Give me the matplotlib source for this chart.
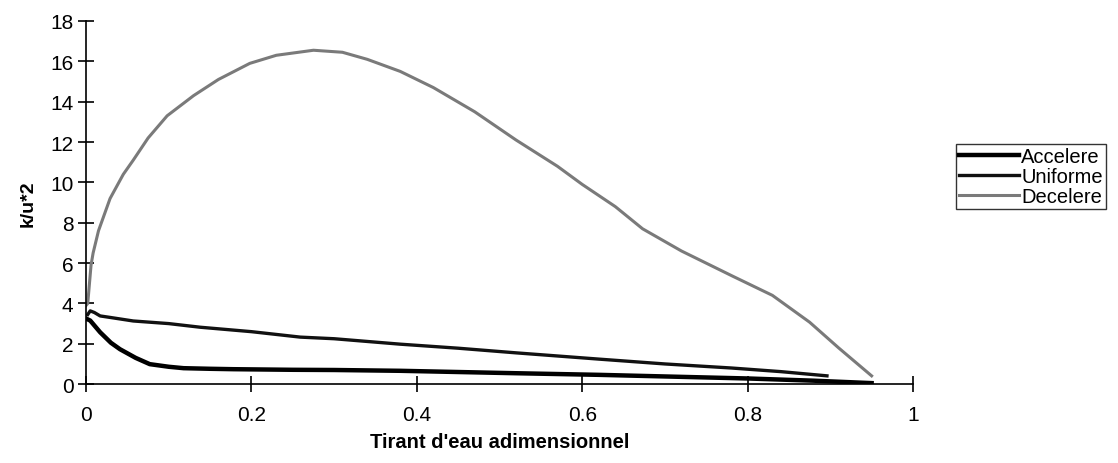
import numpy as np
import matplotlib.pyplot as plt

plt.rcParams['font.family'] = ['Liberation Sans', 'DejaVu Sans']

# Données
x_acc = [0.0, 0.005, 0.017, 0.03, 0.041, 0.06, 0.077, 0.1, 0.118, 0.15, 0.178, 0.25,
         0.3, 0.38, 0.45, 0.52, 0.62, 0.7, 0.8, 0.88, 0.95]
y_acc = [3.25, 3.15, 2.57, 2.05, 1.73, 1.3, 0.99, 0.86, 0.79, 0.76, 0.74, 0.71,
         0.7, 0.66, 0.6, 0.54, 0.46, 0.38, 0.28, 0.17, 0.05]

x_uni = [0.002, 0.005, 0.01, 0.017, 0.03, 0.057, 0.1, 0.138, 0.2, 0.259, 0.3, 0.38,
         0.45, 0.52, 0.62, 0.7, 0.78, 0.84, 0.896]
y_uni = [3.45, 3.63, 3.55, 3.38, 3.3, 3.13, 3.0, 2.82, 2.6, 2.33, 2.25, 1.98,
         1.78, 1.55, 1.24, 1.0, 0.8, 0.62, 0.41]

x_dec = [0.0, 0.002, 0.006, 0.0085, 0.015, 0.029, 0.045, 0.057, 0.075, 0.098, 0.13,
         0.16, 0.198, 0.23, 0.275, 0.31, 0.34, 0.38, 0.42, 0.47, 0.52, 0.57,
         0.6, 0.64, 0.673, 0.72, 0.782, 0.83, 0.875, 0.91, 0.95]
y_dec = [3.9, 4.0, 5.9, 6.5, 7.6, 9.2, 10.4, 11.1, 12.2, 13.3, 14.3, 15.1, 15.9,
         16.3, 16.55, 16.45, 16.1, 15.5, 14.7, 13.5, 12.1, 10.8, 9.9, 8.8, 7.7,
         6.6, 5.35, 4.4, 3.07, 1.8, 0.41]

fig = plt.figure(figsize=(11.18, 4.64), dpi=100)
ax = fig.add_axes([0.077, 0.170, 0.7396, 0.7826])

ax.plot(x_acc, y_acc, color='black', lw=3.2, label='Accelere')
ax.plot(x_uni, y_uni, color='#111111', lw=2.4, label='Uniforme')
ax.plot(x_dec, y_dec, color='#7a7a7a', lw=2.2, label='Decelere')

ax.set_xlim(0, 1)
ax.set_ylim(0, 18)
ax.set_xticks([0, 0.2, 0.4, 0.6, 0.8, 1])
ax.set_xticklabels(['0', '0.2', '0.4', '0.6', '0.8', '1'])
ax.set_yticks(np.arange(0, 19, 2))
ax.spines['top'].set_visible(False)
ax.spines['right'].set_visible(False)
ax.spines['left'].set_linewidth(1.2)
ax.spines['bottom'].set_linewidth(1.2)
ax.tick_params(axis='both', direction='inout', length=12, width=1.2, labelsize=15)
ax.tick_params(axis='x', pad=9)
ax.tick_params(axis='y', pad=3)

ax.set_xlabel("Tirant d'eau adimensionnel", fontsize=14.5, fontweight='bold', labelpad=6)
ax.set_ylabel('k/u*2', fontsize=14, fontweight='bold', labelpad=10)

leg = fig.legend(loc='upper left', bbox_to_anchor=(0.855, 0.688), fontsize=14.5,
                 handlelength=3.0, handletextpad=0.1, borderpad=0.15,
                 labelspacing=0.05, fancybox=False, frameon=True, borderaxespad=0)
leg.get_frame().set_edgecolor('black')
leg.get_frame().set_linewidth(1.0)

fig.savefig('out.png', dpi=100)
